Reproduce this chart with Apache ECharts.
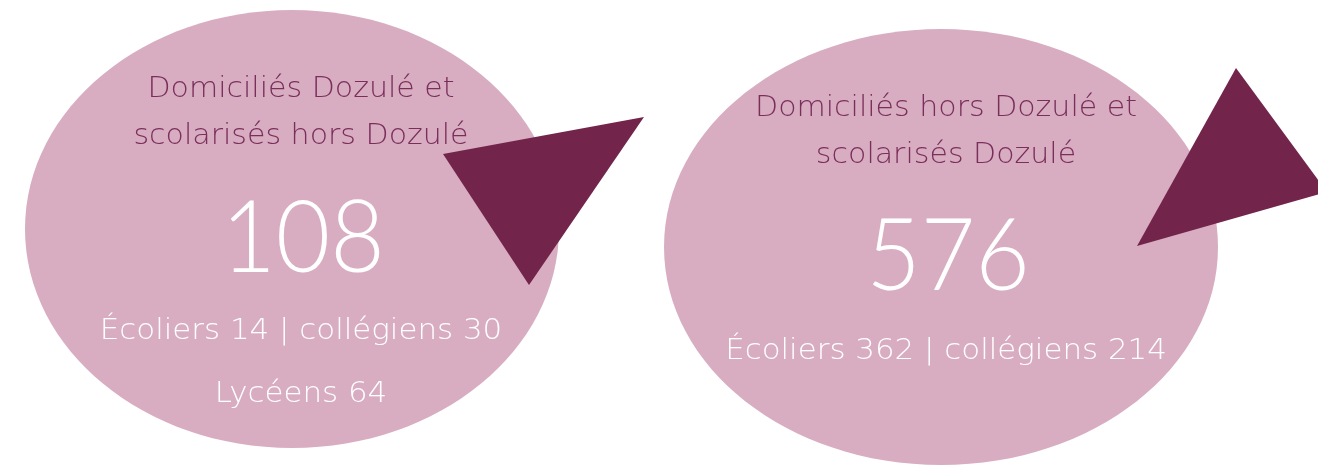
<!DOCTYPE html>
<html><head><meta charset="utf-8">
<script src="https://cdn.jsdelivr.net/npm/echarts@6/dist/echarts.min.js"></script>
<style>html,body{margin:0;padding:0;background:#fff}#c{width:1318px;height:466px}</style>
</head><body><div id="c"></div>
<script>
// ---- data ----
const titles = ['Domiciliés Dozulé et\nscolarisés hors Dozulé', 'Domiciliés hors Dozulé et\nscolarisés Dozulé'];
const totals = [108, 576];
const ecoliers = [14, 362];
const collegiens = [30, 214];
const lyceens = [64, null];

// ---- layout (pixel-unit axes) ----
const bubbles = [
  {cx: 292, cy: 229, rx: 267, ry: 219, textX: 301, titleY: 113, totalY: 240, detailY: 331, lyceeY: 394},
  {cx: 941, cy: 247, rx: 277, ry: 218, textX: 946, titleY: 132, totalY: 258, detailY: 351, lyceeY: 414}
];
const triangles = [
  [[443, 154], [644, 117], [529, 285]],
  [[1236, 68], [1327, 192], [1137, 246]]
];
const FONT = '"DejaVu Sans"';
const NUMFONT = 'Lato';
const PINK = '#D8ADC1';
const PLUM = '#72244B';
const TITLE = '#7A2E5A';

const chart = echarts.init(document.getElementById('c'), null, {renderer: 'canvas'});
const items = totals.map((t, i) => [i]);

chart.setOption({
  animation: false,
  grid: {left: 0, right: 0, top: 0, bottom: 0},
  xAxis: {type: 'value', min: 0, max: 1318, show: false},
  yAxis: {type: 'value', min: 0, max: 466, inverse: true, show: false},
  series: [{
    type: 'custom',
    coordinateSystem: 'cartesian2d',
    data: items,
    encode: {x: 0, y: 0},
    clip: false,
    renderItem: function (params, api) {
      const i = api.value(0);
      const b = bubbles[i];
      const c = api.coord([b.cx, b.cy]);
      const tx = api.coord([b.textX, 0])[0];
      const sx = api.size([1, 1]);
      const tri = triangles[i].map(pt => api.coord(pt));
      const detail = 'Écoliers ' + ecoliers[i] + ' | collégiens ' + collegiens[i];
      const children = [
        {type: 'ellipse', shape: {cx: c[0], cy: c[1], rx: b.rx * sx[0], ry: b.ry * sx[1]}, style: {fill: PINK}},
        {type: 'text', x: tx, y: api.coord([0, b.titleY])[1], scaleX: 1.035,
          style: {text: titles[i], fill: TITLE, font: '200 29px ' + FONT, align: 'center', verticalAlign: 'middle', lineHeight: 47}},
        {type: 'text', x: tx + 2, y: api.coord([0, b.totalY])[1], scaleX: 0.94,
          style: {text: String(totals[i]), fill: '#FFFFFF', font: '300 100px ' + NUMFONT, align: 'center', verticalAlign: 'middle'}},
        {type: 'text', x: tx, y: api.coord([0, b.detailY])[1], scaleX: 1.065,
          style: {text: detail, fill: '#FFFFFF', font: '200 29px ' + FONT, align: 'center', verticalAlign: 'middle'}}
      ];
      if (lyceens[i] != null) {
        children.push({type: 'text', x: tx, y: api.coord([0, b.lyceeY])[1], scaleX: 1.065,
          style: {text: 'Lycéens ' + lyceens[i], fill: '#FFFFFF', font: '200 29px ' + FONT, align: 'center', verticalAlign: 'middle'}});
      }
      children.push({type: 'polygon', shape: {points: tri}, style: {fill: PLUM}});
      return {type: 'group', children: children};
    }
  }]
});
</script></body></html>
